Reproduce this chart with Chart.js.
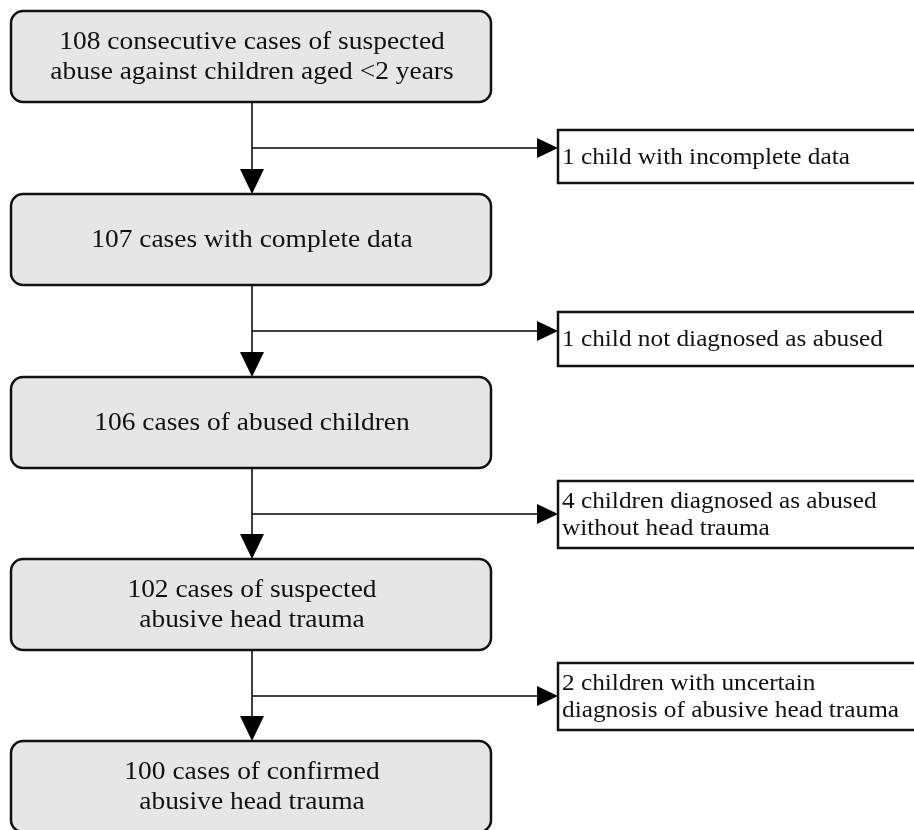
<!DOCTYPE html>
<html>
<head>
<meta charset="utf-8">
<script src="https://cdn.jsdelivr.net/npm/chart.js@4.4.0/dist/chart.umd.min.js"></script>
<style>
  html, body { margin: 0; padding: 0; background: #fff; }
  #wrap { width: 914px; height: 830px; position: relative; overflow: hidden; }
</style>
</head>
<body>
<div id="wrap"><canvas id="flow" width="914" height="830"></canvas></div>
<script>
'use strict';

// ************************* DATA **********************************
const stageCounts = [108, 107, 106, 102, 100];
const stageLabels = [
  ['108 consecutive cases of suspected', 'abuse against children aged <2 years'],
  ['107 cases with complete data'],
  ['106 cases of abused children'],
  ['102 cases of suspected', 'abusive head trauma'],
  ['100 cases of confirmed', 'abusive head trauma']
];
const excludedCounts = [1, 1, 4, 2];
const excludedLabels = [
  ['1 child with incomplete data'],
  ['1 child not diagnosed as abused'],
  ['4 children diagnosed as abused', 'without head trauma'],
  ['2 children with uncertain', 'diagnosis of abusive head trauma']
];

// ************************* LAYOUT (page units) **********************************
const stageTop = [11, 194, 377, 559, 741];
const stageH = 91;
const stageLeft = 11;
const stageRight = 491;
const spineX = 252;
const branchY = [148, 331, 514, 696];
const sideTop = [130, 312, 481, 663];
const sideBottom = [183, 366, 548, 730];
const sideLeft = 558;
const sideRight = 920;

const serif = '"Liberation Serif", "Times New Roman", serif';

// ************************ HELPERS ********************************
function roundRect(ctx, x, y, w, h, r) {
  ctx.beginPath();
  ctx.moveTo(x + r, y);
  ctx.lineTo(x + w - r, y);
  ctx.arcTo(x + w, y, x + w, y + r, r);
  ctx.lineTo(x + w, y + h - r);
  ctx.arcTo(x + w, y + h, x + w - r, y + h, r);
  ctx.lineTo(x + r, y + h);
  ctx.arcTo(x, y + h, x, y + h - r, r);
  ctx.lineTo(x, y + r);
  ctx.arcTo(x, y, x + r, y, r);
  ctx.closePath();
}

function arrowDown(ctx, x, tipY) {
  ctx.beginPath();
  ctx.moveTo(x, tipY);
  ctx.lineTo(x - 12, tipY - 25);
  ctx.lineTo(x + 12, tipY - 25);
  ctx.closePath();
  ctx.fill();
}

function arrowRight(ctx, tipX, y) {
  ctx.beginPath();
  ctx.moveTo(tipX, y);
  ctx.lineTo(tipX - 21, y - 10);
  ctx.lineTo(tipX - 21, y + 10);
  ctx.closePath();
  ctx.fill();
}

// text is a bit wider than the plain font in the original
function wideText(ctx, t, x, y, stretch) {
  ctx.save();
  ctx.translate(x, y);
  ctx.scale(stretch, 1);
  ctx.fillText(t, 0, 0);
  ctx.restore();
}

// **************** FLOW PLUGIN *************************
const flowPlugin = {
  id: 'flow',
  afterDraw(chart) {
    const ctx = chart.ctx;
    const sx = chart.scales.x;
    const sy = chart.scales.y;
    const px = v => sx.getPixelForValue(v);
    const py = v => sy.getPixelForValue(v);
    ctx.save();

    // connectors
    ctx.strokeStyle = '#000';
    ctx.fillStyle = '#000';
    ctx.lineWidth = 1.5;
    for (let i = 0; i < stageCounts.length - 1; i++) {
      const x = px(spineX);
      ctx.beginPath();
      ctx.moveTo(x, py(stageTop[i] + stageH));
      ctx.lineTo(x, py(stageTop[i + 1]) - 20);
      ctx.stroke();
      arrowDown(ctx, x, py(stageTop[i + 1]));

      ctx.beginPath();
      ctx.moveTo(x, py(branchY[i]));
      ctx.lineTo(px(sideLeft) - 16, py(branchY[i]));
      ctx.stroke();
      arrowRight(ctx, px(sideLeft), py(branchY[i]));
    }

    // stage boxes
    ctx.lineWidth = 2.5;
    ctx.strokeStyle = '#111';
    ctx.font = '24.5px ' + serif;
    ctx.textAlign = 'center';
    ctx.textBaseline = 'middle';
    stageLabels.forEach((lines, i) => {
      const x = px(stageLeft), y = py(stageTop[i]);
      const w = px(stageRight) - x, h = py(stageTop[i] + stageH) - y;
      roundRect(ctx, x, y, w, h, 12);
      ctx.fillStyle = '#e6e6e6';
      ctx.fill();
      ctx.stroke();
      ctx.fillStyle = '#111';
      const cy = y + h / 2 + 1;
      lines.forEach((t, j) => {
        wideText(ctx, t, px(spineX), cy + (j - (lines.length - 1) / 2) * 30, 1.12);
      });
    });

    // excluded boxes
    ctx.lineWidth = 2.5;
    ctx.font = '23.5px ' + serif;
    ctx.textAlign = 'left';
    excludedLabels.forEach((lines, i) => {
      const x = px(sideLeft), y = py(sideTop[i]);
      const w = px(sideRight) - x, h = py(sideBottom[i]) - y;
      ctx.fillStyle = '#fff';
      ctx.fillRect(x, y, w, h);
      ctx.strokeRect(x, y, w, h);
      ctx.fillStyle = '#111';
      const cy = y + h / 2 + 1;
      lines.forEach((t, j) => {
        wideText(ctx, t, x + 4, cy + (j - (lines.length - 1) / 2) * 27, 1.076);
      });
    });

    ctx.restore();
  }
};

// **************** CHART *************************
new Chart(document.getElementById('flow'), {
  type: 'scatter',
  data: {
    datasets: [{
      label: 'stages',
      data: stageCounts.map((c, i) => ({ x: spineX, y: stageTop[i] + stageH / 2, n: c })),
      pointRadius: 0
    }, {
      label: 'excluded',
      data: excludedCounts.map((c, i) => ({ x: sideLeft, y: branchY[i], n: c })),
      pointRadius: 0
    }]
  },
  options: {
    responsive: false,
    animation: false,
    layout: { padding: 0 },
    plugins: { legend: { display: false }, tooltip: { enabled: false } },
    scales: {
      x: { type: 'linear', min: 0, max: 914, display: false },
      y: { type: 'linear', min: 0, max: 830, reverse: true, display: false }
    }
  },
  plugins: [flowPlugin]
});
</script>
</body>
</html>
